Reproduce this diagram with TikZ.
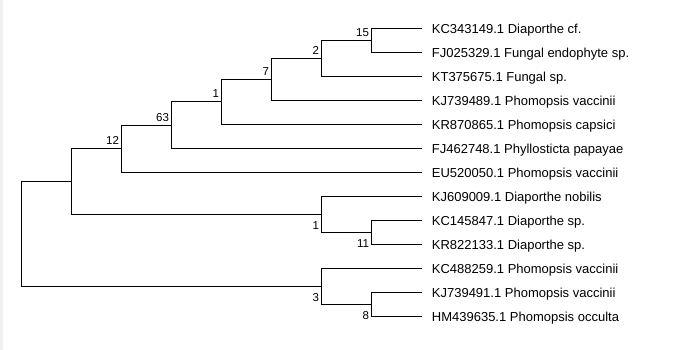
\documentclass[tikz,border=0pt]{standalone}
\usepackage{fontspec}
\setmainfont{Liberation Sans}
\begin{document}
\begin{tikzpicture}[x=1pt,y=-1pt,
  branch/.style={draw=black,line width=1pt},
  leaf/.style={font=\fontsize{13}{15}\selectfont,inner sep=0pt,anchor=base west},
  up/.style={font=\fontsize{11.5}{13}\selectfont,inner sep=0pt,anchor=base east},
]
\useasboundingbox (0,0) rectangle (696,350);
\fill[gray!12] (0,0) rectangle (3,350);
% leaf end points
\foreach \i/\y in {1/28.3,2/52.3,3/76.3,4/100.3,5/124.3,6/148.3,7/172.3,8/196.3,9/220.3,10/244.3,11/268.3,12/292.3,13/316.3}
  \coordinate (l\i) at (421.7,\y);
% internal nodes
\coordinate (n15) at (371.7,40.3);
\coordinate (n2) at (321.7,58.3);
\coordinate (n7) at (271.7,79.3);
\coordinate (n1a) at (221.7,101.8);
\coordinate (n63) at (171.7,125.05);
\coordinate (n12) at (121.7,148.7);
\coordinate (nA) at (71.7,181.5);
\coordinate (n1b) at (321.7,214.3);
\coordinate (n11) at (371.7,232.3);
\coordinate (n3) at (321.7,286.3);
\coordinate (n8) at (371.7,304.3);
\coordinate (root) at (21.3,233.9);
% branches
\draw[branch] (l1) -| (n15) |- (l2);
\draw[branch] (n15) -| (n2) |- (l3);
\draw[branch] (n2) -| (n7) |- (l4);
\draw[branch] (n7) -| (n1a) |- (l5);
\draw[branch] (n1a) -| (n63) |- (l6);
\draw[branch] (n63) -| (n12) |- (l7);
\draw[branch] (l8) -| (n1b) |- (n11);
\draw[branch] (l9) -| (n11) |- (l10);
\draw[branch] (n12) -| (nA) |- (n1b);
\draw[branch] (l11) -| (n3) |- (n8);
\draw[branch] (l12) -| (n8) |- (l13);
\draw[branch] (nA) -| (root) |- (n3);
% leaf labels
\node[leaf] (t1) at ([shift={(10,5)}]l1) {KC343149.1 Diaporthe cf.};
\node[leaf] (t2) at ([shift={(10,5)}]l2) {FJ025329.1 Fungal endophyte sp.};
\node[leaf] (t3) at ([shift={(10,5)}]l3) {KT375675.1 Fungal sp.};
\node[leaf] (t4) at ([shift={(10,5)}]l4) {KJ739489.1 Phomopsis vaccinii};
\node[leaf] (t5) at ([shift={(10,5)}]l5) {KR870865.1 Phomopsis capsici};
\node[leaf] (t6) at ([shift={(10,5)}]l6) {FJ462748.1 Phyllosticta papayae};
\node[leaf] (t7) at ([shift={(10,5)}]l7) {EU520050.1 Phomopsis vaccinii};
\node[leaf] (t8) at ([shift={(10,5)}]l8) {KJ609009.1 Diaporthe nobilis};
\node[leaf] (t9) at ([shift={(10,5)}]l9) {KC145847.1 Diaporthe sp.};
\node[leaf] (t10) at ([shift={(10,5)}]l10) {KR822133.1 Diaporthe sp.};
\node[leaf] (t11) at ([shift={(10,5)}]l11) {KC488259.1 Phomopsis vaccinii};
\node[leaf] (t12) at ([shift={(10,5)}]l12) {KJ739491.1 Phomopsis vaccinii};
\node[leaf] (t13) at ([shift={(10,5)}]l13) {HM439635.1 Phomopsis occulta};
% support values
\node[up] (s15) at ([shift={(-2.5,-4)}]n15) {15};
\node[up] (s2) at ([shift={(-2.5,-4)}]n2) {2};
\node[up] (s7) at ([shift={(-2.5,-4)}]n7) {7};
\node[up] (s1a) at ([shift={(-2.5,-4)}]n1a) {1};
\node[up] (s63) at ([shift={(-2.5,-4)}]n63) {63};
\node[up] (s12) at ([shift={(-2.5,-4)}]n12) {12};
\node[up] (s1b) at ([shift={(-2.5,15)}]n1b) {1};
\node[up] (s11) at ([shift={(-2.5,15)}]n11) {11};
\node[up] (s3) at ([shift={(-2.5,15)}]n3) {3};
\node[up] (s8) at ([shift={(-2.5,15)}]n8) {8};
\end{tikzpicture}
\end{document}
